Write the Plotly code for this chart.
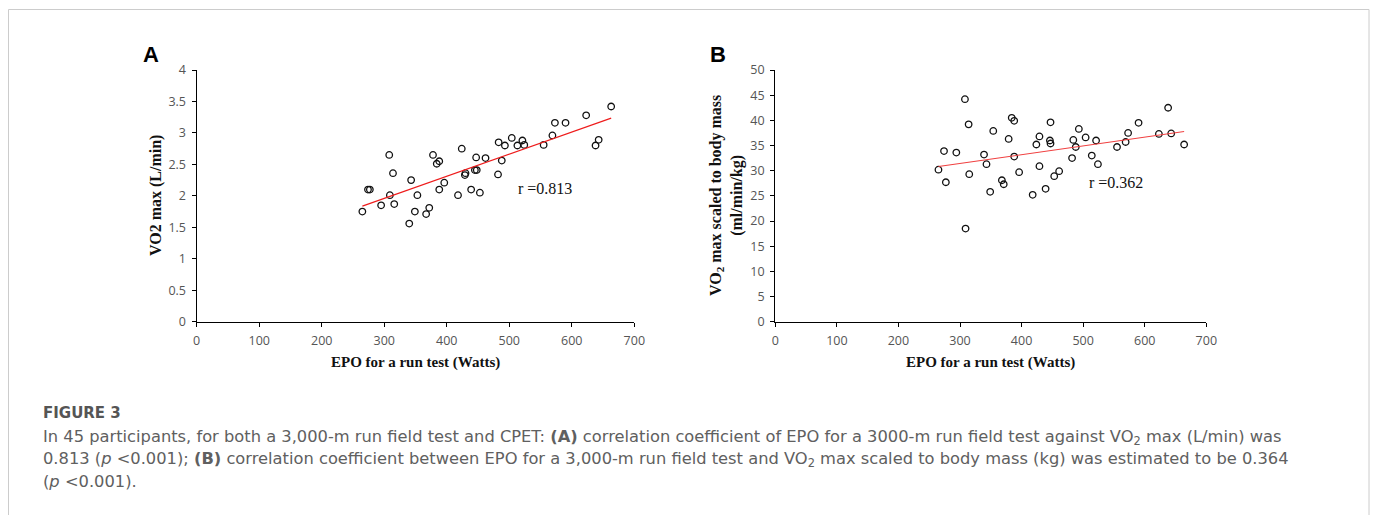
import numpy as np
import plotly.graph_objects as go

# ---------------- data ----------------
epo_a = [265, 274, 277, 295, 308, 309, 314, 316, 340, 343, 349, 353, 367, 372, 378,
         384, 388, 388, 396, 418, 424, 429, 430, 439, 445, 448, 447, 453, 462, 482,
         483, 488, 493, 504, 513, 521, 524, 555, 569, 573, 590, 623, 638, 643, 663]
vo2_abs = [1.75, 2.10, 2.10, 1.85, 2.65, 2.01, 2.36, 1.87, 1.56, 2.25, 1.75, 2.01, 1.71, 1.81, 2.65,
           2.51, 2.55, 2.10, 2.21, 2.01, 2.75, 2.33, 2.36, 2.10, 2.41, 2.41, 2.61, 2.05, 2.60, 2.34,
           2.85, 2.56, 2.80, 2.92, 2.80, 2.88, 2.81, 2.81, 2.96, 3.16, 3.16, 3.28, 2.80, 2.89, 3.42]

epo_b = [265, 274, 277, 294, 308, 309, 314, 315, 339, 343, 349, 354, 368, 371, 379,
         384, 388, 388, 396, 418, 424, 429, 429, 439, 446, 447, 447, 453, 461, 482,
         484, 488, 493, 504, 514, 521, 524, 555, 569, 573, 590, 623, 638, 643, 664]
vo2_rel = [30.2, 33.9, 27.7, 33.6, 44.2, 18.5, 39.2, 29.3, 33.2, 31.3, 25.8, 37.9, 28.1, 27.3, 36.3,
           40.5, 39.9, 32.8, 29.7, 25.2, 35.2, 36.8, 30.9, 26.4, 36.0, 39.6, 35.4, 28.9, 29.9, 32.5,
           36.1, 34.7, 38.3, 36.6, 33.0, 36.0, 31.3, 34.7, 35.7, 37.5, 39.5, 37.3, 42.5, 37.4, 35.2]

r_labels = ["r =0.813", "r =0.362"]
x_ticks = [0, 100, 200, 300, 400, 500, 600, 700]
y_ticks_a = [0, 0.5, 1, 1.5, 2, 2.5, 3, 3.5, 4]
y_ticks_b = [0, 5, 10, 15, 20, 25, 30, 35, 40, 45, 50]

caption_head = "FIGURE 3"
caption_lines = [
    "In 45 participants, for both a 3,000-m run field test and CPET: <b>(A)</b> correlation coefficient of EPO for a 3000-m run field test against VO<sub>2</sub> max (L/min) was",
    "0.813 (<i>p</i> &lt;0.001); <b>(B)</b> correlation coefficient between EPO for a 3,000-m run field test and VO<sub>2</sub> max scaled to body mass (kg) was estimated to be 0.364",
    "(<i>p</i> &lt;0.001).",
]

# ---------------- figure ----------------
W, H = 1377, 515


def px(x):
    return x / W


def py(y):
    return 1 - y / H


fig = go.Figure()


def fit_line(xs, ys):
    xs = np.array(xs, float)
    ys = np.array(ys, float)
    k, b = np.polyfit(xs, ys, 1)
    xx = np.array([xs.min(), xs.max()])
    return xx, k * xx + b


marker = dict(symbol="circle-open", size=6.5, color="#111111", line=dict(width=1.3, color="#111111"))

fig.add_trace(go.Scatter(x=epo_a, y=vo2_abs, mode="markers", marker=marker,
                         xaxis="x", yaxis="y", showlegend=False))
lx, ly = fit_line(epo_a, vo2_abs)
fig.add_trace(go.Scatter(x=lx, y=ly, mode="lines", line=dict(color="#ee1c1c", width=1.2),
                         xaxis="x", yaxis="y", showlegend=False))

fig.add_trace(go.Scatter(x=epo_b, y=vo2_rel, mode="markers", marker=marker,
                         xaxis="x2", yaxis="y2", showlegend=False))
lx, ly = fit_line(epo_b, vo2_rel)
fig.add_trace(go.Scatter(x=lx, y=ly, mode="lines", line=dict(color="#f04040", width=1.1),
                         xaxis="x2", yaxis="y2", showlegend=False))

tickfont = dict(family="Open Sans", size=12.5, color="#555555")
common = dict(showline=True, linecolor="#000000", linewidth=1.4, ticks="outside", ticklen=4,
              tickcolor="#000000", tickwidth=1.2, showgrid=False, zeroline=False,
              tickfont=tickfont, fixedrange=True, automargin=False)

fig.update_layout(
    width=W, height=H,
    margin=dict(l=0, r=0, t=0, b=0, pad=0),
    paper_bgcolor="white", plot_bgcolor="white",
    xaxis=dict(domain=[px(196.7), px(634.3)], range=[0, 700], tickvals=x_ticks,
               anchor="y", ticklabelstandoff=3, **common),
    yaxis=dict(domain=[py(321.7), py(70)], range=[0, 4], tickvals=y_ticks_a,
               ticktext=[f"{v:g}" for v in y_ticks_a], anchor="x", ticklabelstandoff=3, **common),
    xaxis2=dict(domain=[px(775.3), px(1206.3)], range=[0, 700], tickvals=x_ticks,
                anchor="y2", ticklabelstandoff=3, **common),
    yaxis2=dict(domain=[py(321.7), py(70)], range=[0, 50], tickvals=y_ticks_b,
                anchor="x2", ticklabelstandoff=3, **common),
)

xt_font = dict(family="Liberation Serif", size=15, color="#111111")
yt_font = dict(family="Liberation Serif", size=16, color="#111111")
C = dict(xref="paper", yref="paper", showarrow=False, xanchor="center", yanchor="middle")
ann = []
# panel letters
ann.append(dict(text="<b>A</b>", x=px(151), y=py(55),
                font=dict(family="Liberation Sans", size=22, color="#000"), **C))
ann.append(dict(text="<b>B</b>", x=px(718), y=py(55),
                font=dict(family="Liberation Sans", size=22, color="#000"), **C))
# axis titles
ann.append(dict(text="<b>EPO for a run test (Watts)</b>", x=px(415.5), y=py(362), font=xt_font, **C))
ann.append(dict(text="<b>EPO for a run test (Watts)</b>", x=px(990.8), y=py(362), font=xt_font, **C))
ann.append(dict(text="<b>VO2 max (L/min)</b>", x=px(156), y=py(196), textangle=-90,
                font=yt_font, **C))
ann.append(dict(text="<b>VO<sub>2</sub> max scaled to body mass<br>(ml/min/kg)</b>", x=px(727),
                y=py(196), textangle=-90, font=yt_font, **C))
# r labels
ann.append(dict(text=r_labels[0], x=557, y=2.11, xref="x", yref="y", showarrow=False,
                xanchor="center", yanchor="middle",
                font=dict(family="Liberation Serif", size=16, color="#111")))
ann.append(dict(text=r_labels[1], x=553, y=27.7, xref="x2", yref="y2", showarrow=False,
                xanchor="center", yanchor="middle",
                font=dict(family="Liberation Serif", size=16, color="#111")))
# caption
ann.append(dict(text="<b>" + caption_head + "</b>", x=px(41), y=py(412.5), xref="paper", yref="paper",
                xanchor="left", yanchor="middle", showarrow=False,
                font=dict(family="DejaVu Sans", size=15, color="#555555")))
for i, line in enumerate(caption_lines):
    ann.append(dict(text=line, x=px(41), y=py(437 + 22 * i), xref="paper", yref="paper",
                    xanchor="left", yanchor="middle", showarrow=False,
                    font=dict(family="DejaVu Sans", size=16.3, color="#606060")))
fig.update_layout(annotations=ann)

fig.add_shape(type="rect", xref="paper", yref="paper", x0=px(8.5), x1=px(1369), y0=-0.05,
              y1=py(9.5), line=dict(color="#cccccc", width=1), fillcolor="rgba(0,0,0,0)")

fig.write_html("out.html")
